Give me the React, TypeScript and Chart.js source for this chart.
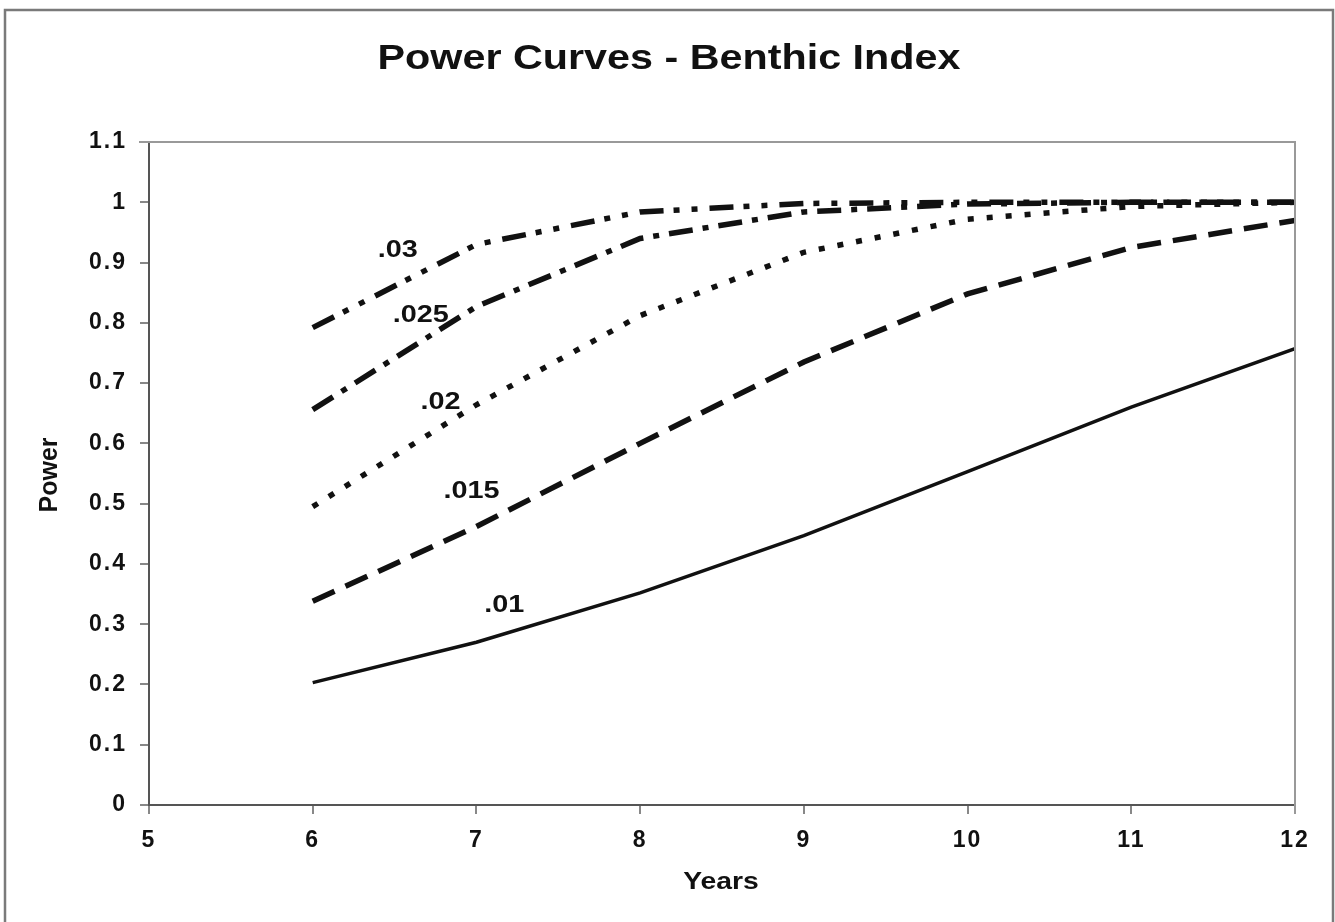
import React, { useEffect, useRef } from "react";
import { Chart, registerables } from "chart.js";

Chart.register(...registerables);

const years = [6, 7, 8, 9, 10, 11, 12];
const power01 = [0.203, 0.27, 0.352, 0.447, 0.553, 0.66, 0.757];
const power015 = [0.338, 0.462, 0.6, 0.735, 0.848, 0.925, 0.97];
const power02 = [0.495, 0.664, 0.812, 0.917, 0.972, 0.993, 1.0];
const power025 = [0.656, 0.827, 0.94, 0.984, 0.997, 1.0, 1.0];
const power03 = [0.792, 0.93, 0.984, 0.998, 1.0, 1.0, 1.0];

const seriesNames = [".01", ".015", ".02", ".025", ".03"];
const labelX = [7.17, 6.97, 6.78, 6.66, 6.52];
const labelY = [0.332, 0.52, 0.668, 0.812, 0.92];

const yTickLabels = ["0", "0.1", "0.2", "0.3", "0.4", "0.5", "0.6", "0.7", "0.8", "0.9", "1", "1.1"];

const FONT = "'Liberation Sans', Arial, Helvetica, sans-serif";

function drawStretched(ctx: CanvasRenderingContext2D, text: string, x: number, y: number, size: number, sx: number) {
  ctx.save();
  ctx.translate(x, y);
  ctx.scale(sx, 1);
  ctx.font = `bold ${size}px ${FONT}`;
  ctx.textAlign = "center";
  ctx.textBaseline = "middle";
  ctx.fillStyle = "#111";
  ctx.fillText(text, 0, 0);
  ctx.restore();
}

const decorPlugin = {
  id: "decor",
  beforeDraw(chart: any) {
    const ctx = chart.ctx as CanvasRenderingContext2D;
    (ctx as any).letterSpacing = "2px";
  },
  beforeDatasetsDraw(chart: any) {
    const ctx = chart.ctx as CanvasRenderingContext2D;
    (ctx as any).letterSpacing = "0px";
  },
  afterDraw(chart: any) {
    const ctx = chart.ctx as CanvasRenderingContext2D;
    const { left, right, top, bottom } = chart.chartArea;
    const xs = chart.scales.x;
    const ys = chart.scales.y;
    ctx.save();
    (ctx as any).letterSpacing = "0px";
    // plot frame top/right
    ctx.strokeStyle = "#999";
    ctx.lineWidth = 2;
    ctx.beginPath();
    ctx.moveTo(left - 10, top);
    ctx.lineTo(right, top);
    ctx.lineTo(right, bottom + 9);
    ctx.stroke();
    // outer border
    ctx.strokeStyle = "#7a7a7a";
    ctx.lineWidth = 2.5;
    ctx.strokeRect(5, 10, 1328, 930);
    // title
    drawStretched(ctx, "Power Curves - Benthic Index", 669, 59, 35, 1.18);
    // axis titles
    drawStretched(ctx, "Years", 721, 882, 24, 1.18);
    ctx.save();
    ctx.translate(50, 475);
    ctx.rotate(-Math.PI / 2);
    ctx.font = `bold 25px ${FONT}`;
    ctx.textAlign = "center";
    ctx.textBaseline = "middle";
    ctx.fillStyle = "#111";
    ctx.fillText("Power", 0, 0);
    ctx.restore();
    // curve labels
    for (let i = 0; i < seriesNames.length; i++) {
      drawStretched(ctx, seriesNames[i], xs.getPixelForValue(labelX[i]), ys.getPixelForValue(labelY[i]), 24, 1.2);
    }
    ctx.restore();
  },
};

function toPoints(vals: number[]) {
  return vals.map((v, i) => ({ x: years[i], y: v }));
}

export default function App() {
  const ref = useRef<HTMLCanvasElement | null>(null);
  useEffect(() => {
    if (!ref.current) return;
    const common = {
      borderColor: "#111",
      pointRadius: 0,
      fill: false,
      tension: 0,
      borderCapStyle: "butt" as const,
    };
    const chart = new Chart(ref.current, {
      type: "line",
      data: {
        datasets: [
          { ...common, label: ".01", data: toPoints(power01), borderWidth: 3.5 },
          { ...common, label: ".015", data: toPoints(power015), borderWidth: 5.5, borderDash: [24, 12] },
          { ...common, label: ".02", data: toPoints(power02), borderWidth: 5.5, borderDash: [6, 13] },
          { ...common, label: ".025", data: toPoints(power025), borderWidth: 5.5, borderDash: [24, 10, 6, 10] },
          { ...common, label: ".03", data: toPoints(power03), borderWidth: 5.5, borderDash: [24, 10, 6, 12, 6, 12] },
        ],
      },
      options: {
        responsive: false,
        animation: false,
        devicePixelRatio: 1,
        layout: { padding: { top: 142, left: 0, right: 40, bottom: 0 } },
        plugins: { legend: { display: false }, tooltip: { enabled: false }, title: { display: false } },
        scales: {
          x: {
            type: "linear",
            min: 5,
            max: 12,
            afterFit: (s: any) => {
              s.height = 117;
            },
            ticks: {
              stepSize: 1,
              padding: 13,
              color: "#111",
              font: { family: FONT, size: 23, weight: "bold" },
            },
            grid: { drawOnChartArea: false, drawTicks: true, tickLength: 9, color: "#888", lineWidth: 2 },
            border: { display: true, color: "#555", width: 2 },
          },
          y: {
            type: "linear",
            min: 0,
            max: 1.1,
            afterFit: (s: any) => {
              s.width = 149;
            },
            ticks: {
              stepSize: 0.1,
              padding: 13,
              color: "#111",
              font: { family: FONT, size: 23, weight: "bold" },
              callback: (_v: any, i: number) => yTickLabels[i],
            },
            grid: { drawOnChartArea: false, drawTicks: true, tickLength: 9, color: "#888", lineWidth: 2 },
            border: { display: true, color: "#555", width: 2 },
          },
        },
      },
      plugins: [decorPlugin],
    } as any);
    return () => chart.destroy();
  }, []);
  return (
    <div style={{ position: "fixed", left: 0, top: 0, width: 1335, height: 922, background: "#fff" }}>
      <canvas ref={ref} width={1335} height={922} style={{ display: "block" }} />
    </div>
  );
}
